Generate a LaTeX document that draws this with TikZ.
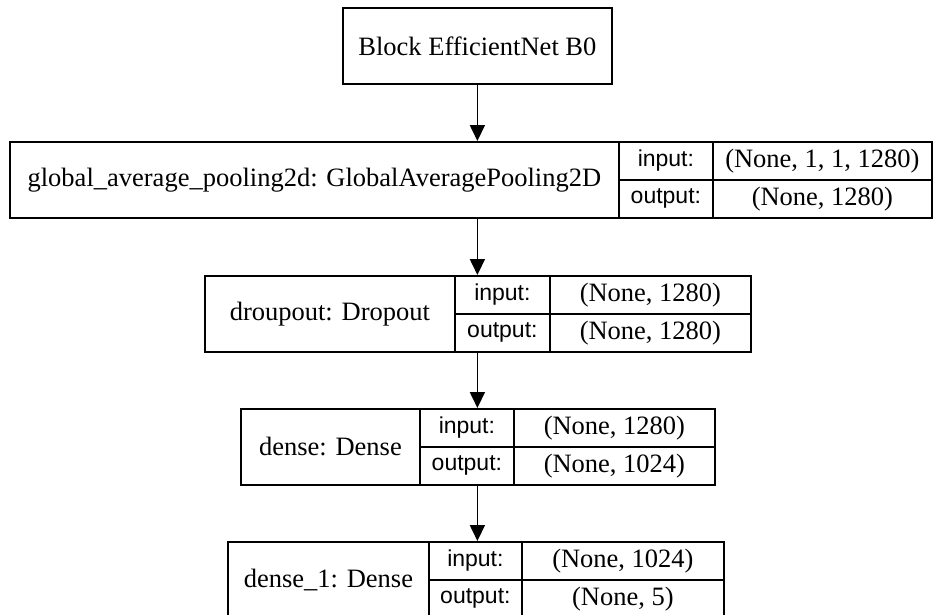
\documentclass[tikz,border=0pt]{standalone}
\usepackage{fontspec}
\setmainfont{Liberation Serif}
\setsansfont{Liberation Sans}
\usetikzlibrary{arrows.meta}

\tikzset{
  cell/.style={draw, line width=1.8pt, inner sep=0pt, anchor=north west,
    font=\fontsize{26.5}{30}\selectfont},
  tag/.style={cell, font=\sffamily\fontsize{23}{26}\selectfont},
  flow/.style={-{Triangle[length=16pt,width=15pt]}, line width=1.8pt},
}

% one layer: #1 name, #2 top, #3 left, #4 first divider, #5 second divider,
% #6 right, #7 layer text, #8 input shape, #9 output shape
\newcommand\shapelayer[9]{%
  \node[cell, minimum width={#4pt-#3pt}, minimum height=76pt] (#1) at (#3,#2) {#7};
  \node[tag, minimum width={#5pt-#4pt}, minimum height=38pt] (#1-in) at (#4,#2) {input:};
  \node[tag, minimum width={#5pt-#4pt}, minimum height=38pt] (#1-out) at (#4,#2+38) {output:};
  \node[cell, minimum width={#6pt-#5pt}, minimum height=38pt] (#1-inv) at (#5,#2) {#8};
  \node[cell, minimum width={#6pt-#5pt}, minimum height=38pt] (#1-outv) at (#5,#2+38) {#9};
}

\begin{document}
\begin{tikzpicture}[x=1pt, y=-1pt]
  \useasboundingbox (0,0) rectangle (935,614);
  \fill[white] (0,0) rectangle (935,614);
  \clip (0,0) rectangle (935,614);

  \node[cell, minimum width=269pt, minimum height=76pt] (block) at (342,7) {Block EfficientNet B0};

  \shapelayer{pool}{141}{9}{618}{712}{931}
    {global\_average\_pooling2d: GlobalAveragePooling2D}{(None, 1, 1, 1280)}{(None, 1280)}
  \shapelayer{drop}{275}{204}{454}{549}{750}
    {droupout: Dropout}{(None, 1280)}{(None, 1280)}
  \shapelayer{dense}{408}{240}{419}{513}{714}
    {dense: Dense}{(None, 1280)}{(None, 1024)}
  \shapelayer{dense1}{541}{227}{428}{521}{723}
    {dense\_1: Dense}{(None, 1024)}{(None, 5)}

  \draw[flow] (block.south) -- (block.south |- pool.north);
  \draw[flow] (block.south |- pool.south) -- (block.south |- drop.north);
  \draw[flow] (block.south |- drop.south) -- (block.south |- dense.north);
  \draw[flow] (block.south |- dense.south) -- (block.south |- dense1.north);
\end{tikzpicture}
\end{document}
